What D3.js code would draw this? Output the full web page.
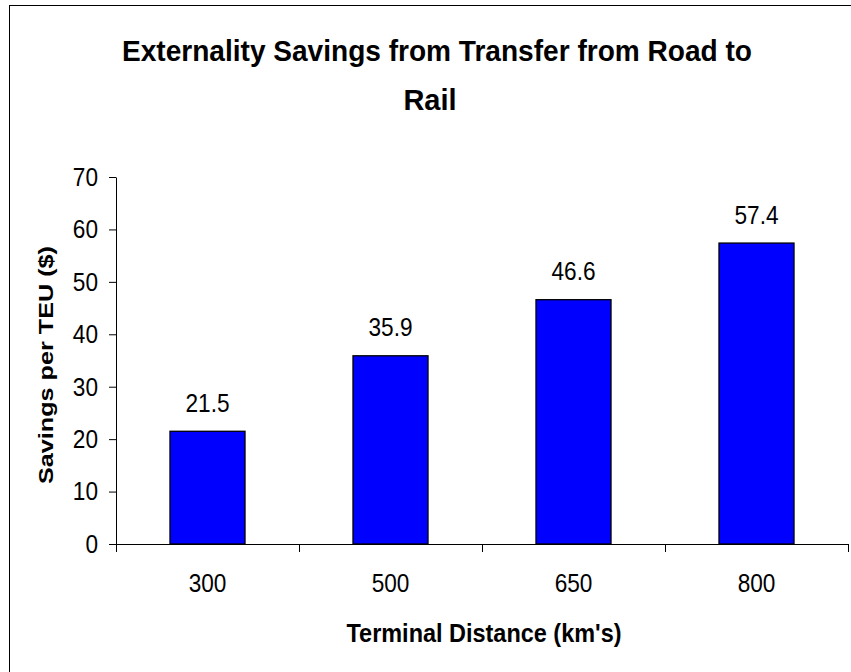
<!DOCTYPE html>
<html>
<head>
<meta charset="utf-8">
<script src="https://cdn.jsdelivr.net/npm/d3@7/dist/d3.min.js"></script>
<style>
  html, body { margin: 0; padding: 0; background: #fff; }
  svg { display: block; }
  text { font-family: "Liberation Sans", Arial, sans-serif; fill: #000; }
</style>
</head>
<body>
<svg id="chart" width="851" height="672"></svg>
<script>
// Terminal distances (km) and externality savings per TEU ($)
const distances = ["300", "500", "650", "800"];
const savings = [21.5, 35.9, 46.6, 57.4];
const yTicks = [0, 10, 20, 30, 40, 50, 60, 70];

const titleLines = ["Externality Savings from Transfer from Road to", "Rail"];
const xTitle = "Terminal Distance (km's)";
const yTitle = "Savings per TEU ($)";

const svg = d3.select("#chart");
const W = 851, H = 672;
const plot = { left: 116, right: 848, top: 177, bottom: 544 };
const numScaleX = 0.87;   // numbers are drawn slightly condensed

// chart frame
svg.append("rect")
  .attr("x", 9.5).attr("y", 5.5)
  .attr("width", W + 20).attr("height", H + 20)
  .attr("fill", "#fff").attr("stroke", "#000").attr("stroke-width", 1);

const x = d3.scaleBand()
  .domain(distances)
  .range([plot.left, plot.right])
  .paddingInner(0.59)
  .paddingOuter(0.295);

const y = d3.scaleLinear()
  .domain([0, 70])
  .range([plot.bottom, plot.top]);

// bars
svg.append("g").selectAll("rect")
  .data(savings)
  .join("rect")
  .attr("x", (d, i) => x(distances[i]))
  .attr("y", d => y(d))
  .attr("width", x.bandwidth())
  .attr("height", d => y(0) - y(d))
  .attr("fill", "#0000ff")
  .attr("stroke", "#000")
  .attr("stroke-width", 1.3);

// value labels
svg.append("g").selectAll("text")
  .data(savings)
  .join("text")
  .attr("transform", (d, i) =>
    `translate(${x(distances[i]) + x.bandwidth() / 2},${y(d) - 19.5}) scale(${numScaleX},1)`)
  .attr("text-anchor", "middle")
  .attr("font-size", 26)
  .text(d => d.toFixed(1));

// y axis
const yAxis = svg.append("g")
  .attr("transform", `translate(${plot.left},0)`)
  .call(d3.axisLeft(y).tickValues(yTicks).tickSize(7).tickSizeOuter(0).tickPadding(11));
yAxis.selectAll("path, line").attr("stroke", "#000").attr("stroke-width", 1);
yAxis.selectAll("text")
  .attr("font-size", 26)
  .attr("font-family", "Liberation Sans, Arial, sans-serif")
  .attr("fill", "#000")
  .attr("x", -18 / numScaleX)
  .attr("transform", `scale(${numScaleX},1)`);

// x axis: line, boundary ticks, centred category labels
const xg = svg.append("g");
xg.append("line")
  .attr("x1", plot.left).attr("x2", plot.right)
  .attr("y1", y(0) + 0.5).attr("y2", y(0) + 0.5)
  .attr("stroke", "#000");
const bounds = d3.range(distances.length + 1).map(i => x.range()[0] + i * x.step());
xg.selectAll("line.tick")
  .data(bounds)
  .join("line")
  .attr("class", "tick")
  .attr("x1", d => Math.round(d) + 0.5).attr("x2", d => Math.round(d) + 0.5)
  .attr("y1", y(0)).attr("y2", y(0) + 8)
  .attr("stroke", "#000");
xg.selectAll("text")
  .data(distances)
  .join("text")
  .attr("transform", d => `translate(${x(d) + x.bandwidth() / 2},592) scale(${numScaleX},1)`)
  .attr("text-anchor", "middle")
  .attr("font-size", 26)
  .text(d => d);

// titles
const title = svg.append("g").attr("font-weight", "bold").attr("font-size", 29);
title.append("text")
  .attr("x", 437).attr("y", 61)
  .attr("text-anchor", "middle")
  .attr("textLength", 630).attr("lengthAdjust", "spacingAndGlyphs")
  .text(titleLines[0]);
title.append("text")
  .attr("x", 430).attr("y", 110)
  .attr("text-anchor", "middle")
  .text(titleLines[1]);

svg.append("text")
  .attr("x", 484).attr("y", 642)
  .attr("text-anchor", "middle")
  .attr("font-weight", "bold").attr("font-size", 26)
  .attr("textLength", 275).attr("lengthAdjust", "spacingAndGlyphs")
  .text(xTitle);

svg.append("text")
  .attr("transform", "translate(53,365) rotate(-90)")
  .attr("text-anchor", "middle")
  .attr("font-weight", "bold").attr("font-size", 21)
  .attr("textLength", 238).attr("lengthAdjust", "spacingAndGlyphs")
  .text(yTitle);
</script>
</body>
</html>
